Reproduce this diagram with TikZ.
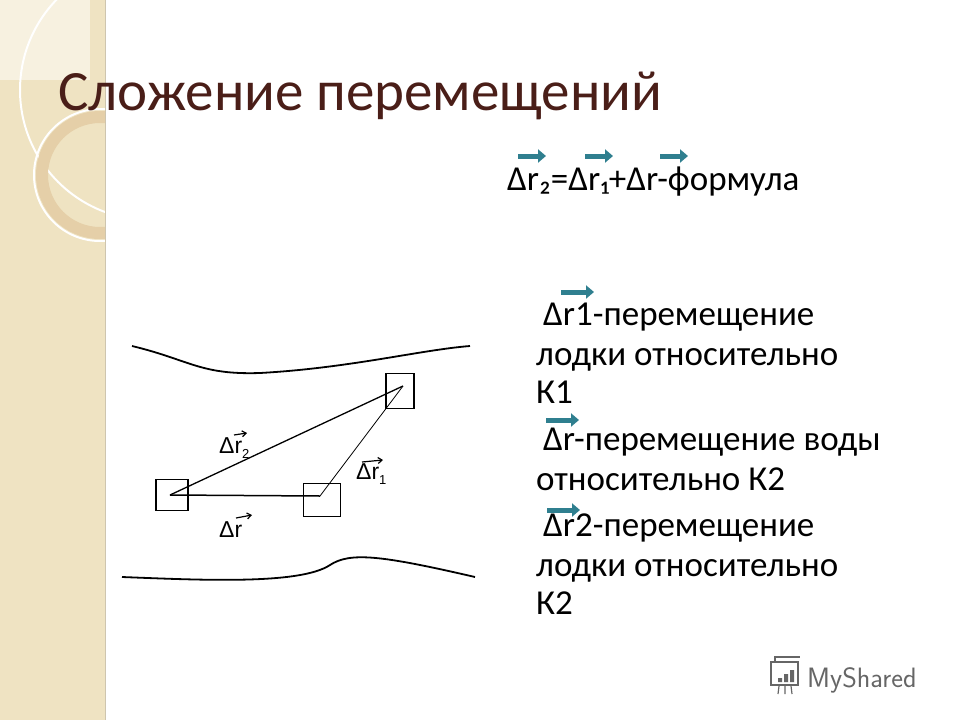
\documentclass[tikz,border=0pt]{standalone}
\usepackage{fontspec}
\setmainfont{Carlito}
\newfontfamily\arialf{Liberation Sans}
\usetikzlibrary{arrows.meta}
\newcommand{\lsub}[1]{\raisebox{-5pt}{\fontsize{13}{13}\selectfont #1}}
\begin{document}
\begin{tikzpicture}[x=1pt,y=-1pt,
  box/.style={draw,line width=1.2pt,inner sep=0},
  txt/.style={anchor=base west,inner sep=0,font=\fontsize{35}{38}\selectfont},
  varr/.style={line width=5pt,color=arrowc,-{Triangle[length=8pt,width=13pt]}},
  lab/.style={anchor=base west,inner sep=0,font=\arialf\fontsize{23}{23}\selectfont},
  larr/.style={line width=1.2pt,-{Straight Barb[length=4pt,width=6pt]}},
  river/.style={line width=1.8pt}]
\definecolor{arrowc}{HTML}{2F7F8F}
\definecolor{beige}{HTML}{EFE3C2}
\definecolor{titlec}{HTML}{4A1E18}
\useasboundingbox (0,0) rectangle (960,720);
\fill[white] (0,0) rectangle (960,720);
\fill[beige] (0,0) rectangle (105,720);
\begin{scope}
\clip (0,0) rectangle (105,720);
\fill[white!50!beige] (0,0) rectangle (90,80);
\draw[white,line width=2pt] (150,90) circle (130);
\draw[beige!80!brown,line width=12pt] (100,175) circle (58);
\draw[white,line width=2pt] (100,175) circle (66);
\end{scope}
\draw[beige!70!gray,line width=1pt] (105,0) -- (105,720);
\node[txt,font=\fontsize{57}{60}\selectfont,text=titlec] (title) at (58,110) {Сложение перемещений};
% formula
\node[txt] (f) at (507,190) {Δr₂=Δr₁+Δr-формула};
\draw[varr] (518,156) -- (546,156);
\draw[varr] (585,156) -- (613,156);
\draw[varr] (660,156) -- (688,156);
% descriptions
\node[txt] (d1) at (543,325) {Δr1-перемещение};
\node[txt] (d2) at (536,365) {лодки  относительно};
\node[txt] (d3) at (536,403) {К1};
\node[txt] (d4) at (543,450) {Δr-перемещение воды};
\node[txt] (d5) at (536,490) {относительно К2};
\node[txt] (d6) at (543,536) {Δr2-перемещение};
\node[txt] (d7) at (536,576) {лодки   относительно};
\node[txt] (d8) at (536,614) {К2};
\draw[varr] (561,292) -- (594,292);
\draw[varr] (546,420) -- (579,420);
\draw[varr] (547,510) -- (580,510);
% river
\draw[river] (132,346) .. controls (190,360) and (200,375) .. (260,373) .. controls (350,368) and (420,350) .. (470,346);
\draw[river] (122,577) .. controls (200,580) and (300,585) .. (330,565) .. controls (350,552) and (380,555) .. (475,577);
% boats
\node[box,minimum width=32pt,minimum height=31pt] (A) at (172,495) {};
\node[box,minimum width=37pt,minimum height=33pt] (B) at (322,500) {};
\node[box,minimum width=28pt,minimum height=35pt] (C) at (400,391) {};
\coordinate (a) at (170,495);
\coordinate (b) at (320,496);
\coordinate (c) at (403,386);
\draw[line width=1.5pt] (a) -- (b);
\draw[line width=1.3pt] (a) -- (c);
\draw[line width=0.8pt] (b) -- (c);
% labels
\node[lab] (l2) at (219,453) {Δr\lsub{2}};
\draw[larr] (234,435) -- (247,433);
\node[lab] (l1) at (356,479) {Δr\lsub{1}};
\draw[larr] (362,462) -- (383,460);
\node[lab] (l0) at (219,537) {Δr};
\draw[larr] (236,518) -- (252,515);
% watermark
\node[txt,font=\fontsize{28}{28}\selectfont\sffamily,text=gray!80!black] (ms) at (807,687) {MyShared};
\draw[gray!80!black,line width=1.2pt] (771,662) rectangle (798,685) (775,662) -- (775,657) -- (800,657);
\fill[gray!80!black] (778,678) rectangle (782,682) (784,674) rectangle (788,682) (790,670) rectangle (794,682);
\draw[gray!80!black,line width=1.2pt] (779,686) -- (778,694) (785,686) -- (785,694) (791,686) -- (792,694);
\end{tikzpicture}
\end{document}
